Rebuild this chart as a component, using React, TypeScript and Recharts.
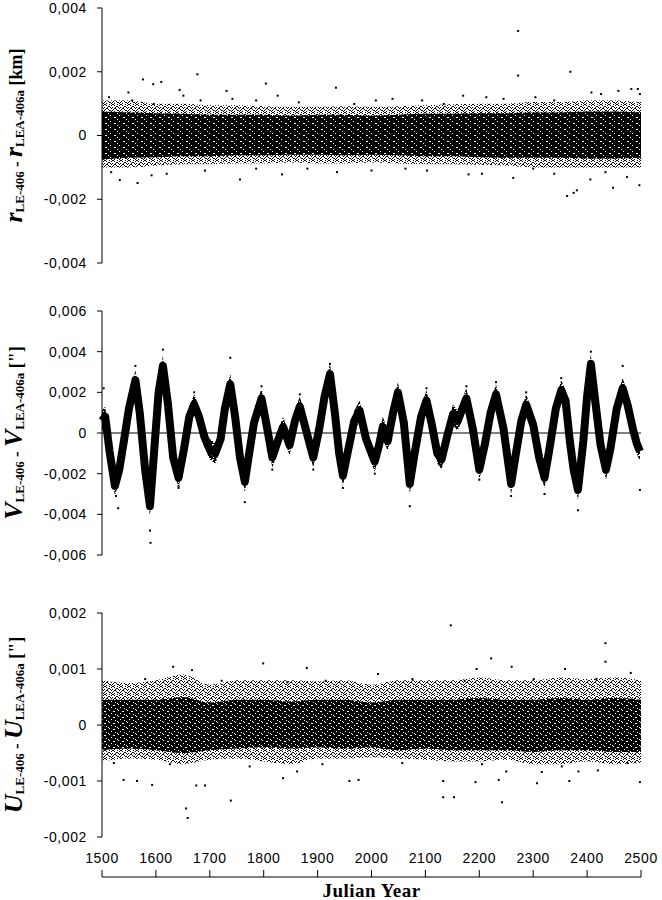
import React from "react";
import { ComposedChart, Area, Line, Scatter, XAxis, YAxis, ReferenceLine, Label } from "recharts";

// all values in units of 0.001
const YEARS = [1500, 1550, 1600, 1650, 1700, 1750, 1800, 1850, 1900, 1950, 2000, 2050, 2100, 2150, 2200, 2250, 2300, 2350, 2400, 2450, 2500];
const X_TICKS = [1500, 1600, 1700, 1800, 1900, 2000, 2100, 2200, 2300, 2400, 2500];

// r: dense band + speckled fringe
const rCoreHi = [0.75, 0.72, 0.7, 0.68, 0.65, 0.65, 0.65, 0.62, 0.65, 0.65, 0.62, 0.65, 0.68, 0.68, 0.7, 0.7, 0.72, 0.72, 0.75, 0.75, 0.72];
const rCoreLo = [-0.75, -0.7, -0.68, -0.65, -0.65, -0.62, -0.62, -0.6, -0.6, -0.62, -0.6, -0.62, -0.65, -0.65, -0.68, -0.7, -0.7, -0.7, -0.72, -0.72, -0.7];
const rFrHi = [1.1, 1.1, 1.0, 1.0, 0.95, 0.95, 0.92, 0.9, 0.9, 0.92, 0.9, 0.92, 0.95, 0.98, 1.0, 1.0, 1.05, 1.05, 1.1, 1.1, 1.05];
const rFrLo = [-1.0, -1.0, -0.95, -0.9, -0.9, -0.88, -0.88, -0.85, -0.88, -0.88, -0.85, -0.88, -0.9, -0.9, -0.92, -0.95, -1.0, -1.0, -1.0, -1.0, -1.0];
const rOutliers: [number, number][] = [
  [1576, 1.76], [1595, 1.61], [1610, 1.68], [1677, 1.92], [1804, 1.63], [1934, 1.5], [2272, 3.28], [2272, 1.88],
  [2369, 2.0], [2494, 1.46], [2482, 1.46], [2458, 1.4], [2408, 1.35], [1549, 1.35], [1644, 1.43], [1731, 1.4], [2170, 1.25],
  [1513, 1.2], [1556, 1.1], [1596, 0.99], [1651, 1.25], [1683, 1.1], [1742, 1.15], [1786, 1.1], [1826, 1.25], [1865, 1.04],
  [1968, 0.99], [2008, 1.1], [2039, 1.15], [2094, 1.1], [2134, 0.99], [2213, 1.2], [2245, 1.15], [2304, 1.2], [2339, 1.1],
  [2426, 1.3], [2498, 1.3],
  [2363, -1.9], [2381, -1.72], [2375, -1.8], [2497, -1.56], [2448, -1.64], [2406, -1.38], [1566, -1.49], [1533, -1.4],
  [1756, -1.38], [2263, -1.33], [2474, -1.3], [1592, -1.25], [1834, -1.22], [1936, -1.15], [2103, -1.1], [2180, -1.22],
  [1517, -1.15], [1620, -1.2], [1691, -1.1], [1786, -1.04], [1881, -1.04], [2000, -1.1], [2063, -1.04], [2205, -1.2],
  [2300, -1.04], [2339, -1.2], [2434, -1.15],
];

// V: oscillating signal (centre of the band)
const vYears = [
  1500, 1506, 1514, 1524, 1532, 1540, 1550, 1562, 1570, 1580, 1589, 1597, 1605, 1613, 1622, 1632, 1642, 1652, 1662, 1671,
  1680, 1690, 1700, 1710, 1720, 1728, 1738, 1747, 1756, 1765, 1773, 1782, 1796, 1806, 1816, 1826, 1836, 1848, 1858, 1867,
  1878, 1892, 1903, 1913, 1923, 1932, 1940, 1947, 1957, 1968, 1978, 1990, 2006, 2014, 2021, 2030, 2040, 2049, 2060, 2071,
  2080, 2092, 2102, 2112, 2122, 2130, 2140, 2151, 2160, 2176, 2188, 2200, 2210, 2221, 2231, 2245, 2259, 2268, 2278, 2287,
  2300, 2311, 2321, 2330, 2342, 2352, 2360, 2368, 2375, 2383, 2393, 2400, 2407, 2415, 2425, 2435, 2443, 2455, 2466, 2475,
  2485, 2492, 2498,
];
const vVals = [
  0.6, 0.8, -0.9, -2.6, -1.8, -0.5, 1.2, 2.6, 1.0, -1.8, -3.6, -0.8, 2.0, 3.3, 1.5, -1.2, -2.2, -0.8, 0.8, 1.4,
  0.8, -0.2, -0.8, -1.0, -0.3, 1.2, 2.4, 0.8, -1.2, -2.4, -1.0, 0.5, 1.7, 0.3, -1.2, -0.4, 0.3, -0.6, 0.6, 1.3,
  0.2, -1.2, 0.2, 1.8, 2.9, 1.0, -1.0, -2.1, -0.8, 0.6, 1.1, -0.3, -1.4, -0.6, 0.3, -0.4, 1.0, 2.0, 0.5, -2.5,
  -1.0, 0.8, 1.6, 0.4, -1.0, -1.3, -0.2, 0.9, 0.6, 1.7, 0.2, -1.8, -0.6, 1.0, 1.9, 0.2, -2.5, -1.0, 0.6, 1.4,
  0.4, -1.2, -2.2, -0.8, 1.2, 2.1, 1.6, -0.4, -1.8, -2.8, -0.4, 1.8, 3.4, 1.6, -0.6, -1.8, -0.8, 1.2, 2.2, 1.4,
  0.2, -0.5, -0.9,
];
const vOutliers: [number, number][] = [
  [1503, 2.2], [1526, -3.1], [1530, -3.7], [1562, 3.3], [1589, -4.8], [1590, -5.4], [1613, 4.1], [1642, -2.7],
  [1738, 3.7], [1765, -3.4], [1923, 3.4], [2071, -3.6], [2259, -3.1], [2321, -3.0], [2383, -3.8], [2407, 4.0],
  [2466, 3.3], [2498, -2.8], [1671, 2.0], [1796, 2.3], [1867, 1.9], [2102, 2.2], [2176, 2.3], [2231, 2.5],
  [2287, 2.0], [2352, 2.7], [1947, -2.7], [2200, -2.3], [1642, -2.6], [1816, -1.8], [1892, -1.8], [2006, -2.0],
];
const BAND_HALF = 0.5;

// U: dense band + speckled fringe
const uCoreHi = [0.45, 0.45, 0.45, 0.5, 0.4, 0.45, 0.45, 0.42, 0.45, 0.45, 0.4, 0.45, 0.45, 0.45, 0.48, 0.45, 0.45, 0.48, 0.45, 0.48, 0.45];
const uCoreLo = [-0.45, -0.42, -0.45, -0.5, -0.45, -0.42, -0.4, -0.42, -0.4, -0.42, -0.4, -0.45, -0.42, -0.45, -0.45, -0.45, -0.48, -0.45, -0.45, -0.48, -0.48];
const uFrHi = [0.8, 0.75, 0.8, 0.9, 0.72, 0.8, 0.8, 0.8, 0.78, 0.8, 0.72, 0.8, 0.8, 0.8, 0.85, 0.8, 0.8, 0.85, 0.82, 0.85, 0.8];
const uFrLo = [-0.65, -0.6, -0.62, -0.7, -0.62, -0.6, -0.65, -0.7, -0.6, -0.6, -0.58, -0.6, -0.62, -0.65, -0.65, -0.62, -0.7, -0.7, -0.65, -0.7, -0.68];
const uOutliers: [number, number][] = [
  [2147, 1.78], [2434, 1.46], [2434, 1.13], [2222, 1.19], [2359, 1.0], [1632, 1.04], [1667, 0.98], [1799, 1.1],
  [1880, 1.02], [2260, 1.04], [2481, 0.93], [2012, 0.91], [2195, 1.0], [1580, 0.82], [1722, 0.79], [1844, 0.76],
  [1915, 0.79], [2076, 0.82], [2173, 0.79], [2301, 0.82], [2417, 0.82],
  [1656, -1.49], [1659, -1.66], [1739, -1.35], [2133, -1.29], [2153, -1.29], [2242, -1.38], [2133, -1.0], [2193, -1.02],
  [1593, -1.07], [1675, -1.08], [1691, -1.08], [1540, -0.98], [1565, -1.0], [1959, -1.0], [1976, -0.98], [2236, -0.98],
  [2498, -1.02], [2307, -1.04], [2367, -1.0], [2250, -0.83], [1862, -0.83], [2384, -0.83], [2316, -0.84], [2420, -0.81],
  [1836, -0.95], [1522, -0.68], [1626, -0.7], [1774, -0.74], [1909, -0.7], [2057, -0.68], [2205, -0.7], [2353, -0.74],
  [2475, -0.68],
];

const rTicks = [-4, -2, 0, 2, 4];
const vTicks = [-6, -4, -2, 0, 2, 4, 6];
const uTicks = [-2, -1, 0, 1, 2];

const rTable = YEARS.map((year, i) => ({ year, core: [rCoreLo[i], rCoreHi[i]], fringe: [rFrLo[i], rFrHi[i]] }));
const uTable = YEARS.map((year, i) => ({ year, core: [uCoreLo[i], uCoreHi[i]], fringe: [uFrLo[i], uFrHi[i]] }));
const vTable = vYears.map((year, i) => ({ year, v: vVals[i], band: [vVals[i] - BAND_HALF, vVals[i] + BAND_HALF] }));
const toPts = (arr: [number, number][]) => arr.map(([year, v]) => ({ year, v }));

const fmt = (v: number) => (v === 0 ? "0" : (v / 1000).toFixed(3).replace(".", ","));
const tickStyle = { fill: "#000", fontSize: 14, fontFamily: "Liberation Sans, Arial, sans-serif", letterSpacing: 0.6 };

function Pixel(props: any) {
  const { cx, cy } = props;
  if (cx == null || cy == null) return null;
  return <rect x={cx - 1} y={cy - 1} width={2} height={2} fill="#000" />;
}

// speckle fills that mimic thousands of overlapping points
const SPARSE_DOTS = [
  [0, 0, 2], [5, 0, 1], [2, 1, 1], [7, 1, 1], [4, 2, 2], [0, 3, 1], [6, 3, 1], [2, 4, 2], [7, 4, 1],
  [4, 5, 1], [0, 6, 1], [5, 6, 2], [2, 7, 1], [7, 7, 1], [3, 3, 1], [1, 5, 1],
];
const DENSE_HOLES = [[1, 0, 2], [5, 1, 1], [3, 2, 1], [0, 3, 1], [6, 3, 1], [2, 4, 2]];
const SOLID_HOLES = [[2, 1, 1], [6, 3, 2], [0, 5, 1]];
const MID_HOLES = [[1, 0, 1], [5, 1, 2], [3, 3, 1], [7, 4, 1], [0, 5, 1]];

function Patterns({ id }: { id: string }) {
  return (
    <defs>
      <pattern id={`${id}-sparse`} width={8} height={8} patternUnits="userSpaceOnUse">
        {SPARSE_DOTS.map(([x, y, w], i) => (
          <rect key={i} x={x} y={y} width={w} height={1} fill="#000" />
        ))}
      </pattern>
      <pattern id={`${id}-dense`} width={7} height={5} patternUnits="userSpaceOnUse">
        <rect x={0} y={0} width={7} height={5} fill="#000" />
        {DENSE_HOLES.map(([x, y, w], i) => (
          <rect key={i} x={x} y={y} width={w} height={1} fill="#fff" />
        ))}
      </pattern>
      <pattern id={`${id}-mid`} width={9} height={6} patternUnits="userSpaceOnUse">
        <rect x={0} y={0} width={9} height={6} fill="#000" />
        {MID_HOLES.map(([x, y, w], i) => (
          <rect key={i} x={x} y={y} width={w} height={1} fill="#fff" />
        ))}
      </pattern>
      <pattern id={`${id}-solid`} width={9} height={6} patternUnits="userSpaceOnUse">
        <rect x={0} y={0} width={9} height={6} fill="#000" />
        {SOLID_HOLES.map(([x, y, w], i) => (
          <rect key={i} x={x} y={y} width={w} height={1} fill="#fff" />
        ))}
      </pattern>
    </defs>
  );
}

function yTitle(letter: string, unit: string) {
  return (props: any) => {
    const vb = props.viewBox || { y: 0, height: 0 };
    const cy = vb.y + vb.height / 2;
    return (
      <text
        transform={`translate(22,${cy}) rotate(-90)`}
        textAnchor="middle"
        fontFamily="Liberation Serif, Times New Roman, serif"
        fontWeight="bold"
        fill="#000"
      >
        <tspan fontStyle="italic" fontSize={26}>{letter}</tspan>
        <tspan fontSize={13} dy={2}>LE-406</tspan>
        <tspan fontSize={17} dy={-2}> - </tspan>
        <tspan fontStyle="italic" fontSize={26}>{letter}</tspan>
        <tspan fontSize={13} dy={2}>LEA-406a</tspan>
        <tspan fontSize={18} dy={-2}> {unit}</tspan>
      </text>
    );
  };
}

const W = 662;
const MARGIN_R = 21;
const AXIS_W = 102;

function YAx({ domain, ticks, letter, unit }: { domain: number[]; ticks: number[]; letter: string; unit: string }) {
  return (
    <YAxis
      type="number"
      domain={domain}
      ticks={ticks}
      allowDataOverflow
      tickFormatter={fmt}
      width={AXIS_W}
      tickSize={5}
      tickMargin={10}
      axisLine={{ stroke: "#000" }}
      tickLine={{ stroke: "#000" }}
      tick={tickStyle}
      interval={0}
    >
      <Label content={yTitle(letter, unit)} />
    </YAxis>
  );
}

export default function App() {
  return (
    <div style={{ position: "absolute", left: 0, top: 0, width: W, height: 900, background: "#fff" }}>
      <div style={{ position: "absolute", left: 0, top: 0 }}>
        <ComposedChart width={W} height={280} data={rTable} margin={{ top: 8, right: MARGIN_R, bottom: 17, left: 0 }}>
          <Patterns id="r" />
          <XAxis type="number" dataKey="year" domain={[1500, 2500]} hide />
          {YAx({ domain: [-4, 4], ticks: rTicks, letter: "r", unit: "[km]" })}
          <Area dataKey="fringe" type="monotone" fill="url(#r-sparse)" fillOpacity={1} stroke="none" isAnimationActive={false} activeDot={false} />
          <Area dataKey="core" type="monotone" fill="url(#r-solid)" fillOpacity={1} stroke="none" isAnimationActive={false} activeDot={false} />
          <Scatter data={toPts(rOutliers)} dataKey="v" shape={Pixel} isAnimationActive={false} />
        </ComposedChart>
      </div>

      <div style={{ position: "absolute", left: 0, top: 290 }}>
        <ComposedChart width={W} height={280} data={vTable} margin={{ top: 21, right: MARGIN_R, bottom: 15, left: 0 }}>
          <Patterns id="v" />
          <XAxis type="number" dataKey="year" domain={[1500, 2500]} hide />
          {YAx({ domain: [-6, 6], ticks: vTicks, letter: "V", unit: '["]' })}
          <ReferenceLine y={0} stroke="#000" strokeWidth={1} />
          <Area dataKey="band" type="linear" fill="url(#v-dense)" fillOpacity={1} stroke="none" isAnimationActive={false} activeDot={false} />
          <Line dataKey="v" type="linear" stroke="#000" strokeWidth={8} strokeLinejoin="round" dot={false} activeDot={false} isAnimationActive={false} />
          <Scatter data={toPts(vOutliers)} dataKey="v" shape={Pixel} isAnimationActive={false} />
        </ComposedChart>
      </div>

      <div style={{ position: "absolute", left: 0, top: 590 }}>
        <ComposedChart width={W} height={260} data={uTable} margin={{ top: 23, right: MARGIN_R, bottom: 13, left: 0 }}>
          <Patterns id="u" />
          <XAxis type="number" dataKey="year" domain={[1500, 2500]} hide />
          {YAx({ domain: [-2, 2], ticks: uTicks, letter: "U", unit: '["]' })}
          <Area dataKey="fringe" type="monotone" fill="url(#u-sparse)" fillOpacity={1} stroke="none" isAnimationActive={false} activeDot={false} />
          <Area dataKey="core" type="monotone" fill="url(#u-mid)" fillOpacity={1} stroke="none" isAnimationActive={false} activeDot={false} />
          <Scatter data={toPts(uOutliers)} dataKey="v" shape={Pixel} isAnimationActive={false} />
        </ComposedChart>
      </div>

      <div style={{ position: "absolute", left: 0, top: 830 }}>
        <ComposedChart width={W} height={70} data={X_TICKS.map((year) => ({ year }))} margin={{ top: 7, right: MARGIN_R, bottom: 0, left: AXIS_W }}>
          <XAxis
            type="number"
            dataKey="year"
            orientation="top"
            domain={[1500, 2500]}
            ticks={X_TICKS}
            interval={0}
            height={40}
            tickSize={7}
            tickMargin={7}
            axisLine={{ stroke: "#000" }}
            tickLine={{ stroke: "#000" }}
            tick={tickStyle}
          >
            <Label
              content={() => (
                <text x={371.5} y={67} textAnchor="middle" fontFamily="Liberation Serif, Times New Roman, serif" fontWeight="bold" fontSize={19} letterSpacing={0.5} fill="#000">
                  Julian Year
                </text>
              )}
            />
          </XAxis>
          <YAxis hide domain={[0, 1]} />
        </ComposedChart>
      </div>
    </div>
  );
}
